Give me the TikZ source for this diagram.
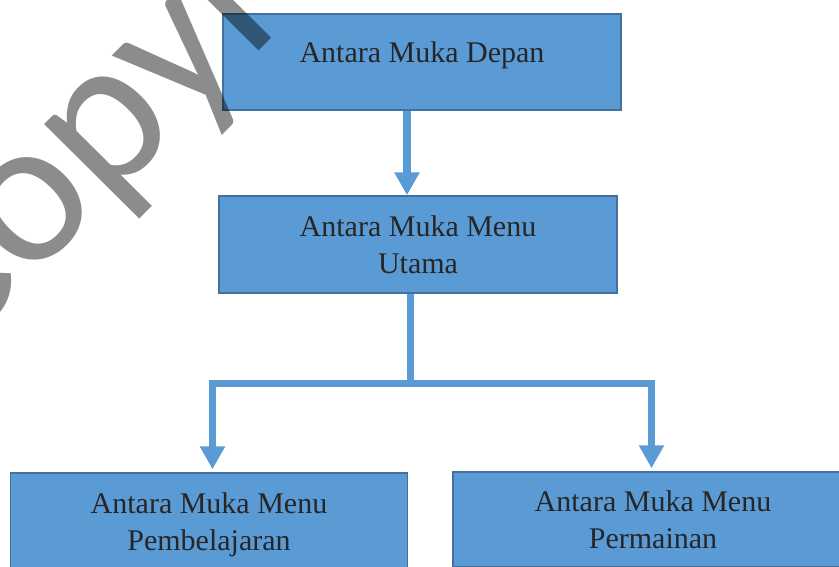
\documentclass[tikz,border=0pt]{standalone}
\usepackage{fontspec}
\setmainfont{Liberation Serif}
\newfontfamily\wmfont{Carlito}
\usetikzlibrary{arrows.meta,backgrounds}
\definecolor{boxfill}{HTML}{5B9BD5}
\definecolor{boxline}{HTML}{41719C}
\definecolor{txt}{HTML}{262626}
\begin{document}
\begin{tikzpicture}[x=1pt,y=-1pt,
  box/.style={draw=boxline, fill=boxfill, line width=1.5pt, minimum width=398pt,
    text=txt, font=\fontsize{30}{37.5}\selectfont, align=center, inner sep=0pt},
  conn/.style={draw=boxfill, line width=7.5pt},
  tip/.style={-{Triangle[width=24pt,length=23pt]}},
  wm/.style={text=black, text opacity=0.45, font=\wmfont\fontsize{210}{210}\selectfont, inner sep=0pt}]
\useasboundingbox (0,0) rectangle (839,566);
\clip (0,0) rectangle (839,566);
\node[box, minimum height=96pt, text depth=20pt] (n1) at (422,62) {Antara Muka Depan};
\node[box, minimum height=97pt] (n2) at (418,244.5) {Antara Muka Menu\\Utama};
\node[box, minimum width=397pt, minimum height=104pt] (n3) at (209,525) {Antara Muka Menu\\Pembelajaran};
\node[box, minimum width=400pt, minimum height=95pt] (n4) at (653,519.5) {Antara Muka Menu\\Permainan};
\coordinate (j) at (410.5,383.5);
\begin{scope}[on background layer]
\fill[white] (0,0) rectangle (839,566);
\draw[conn] ([xshift=-7.5pt]n2.south) -- (j);
\draw[conn, tip] ([xshift=-15pt]n1.south) -- ([xshift=-11pt]n2.north);
\draw[conn, tip, shorten >=3pt] (j) -| ([xshift=3.5pt]n3.north);
\draw[conn, tip, shorten >=3pt] (j) -| ([xshift=-1.5pt]n4.north);
\end{scope}
\node[wm, rotate=45.2, anchor=base west] (wm) at (-51.6,363.4) {Copyright};
\end{tikzpicture}
\end{document}
